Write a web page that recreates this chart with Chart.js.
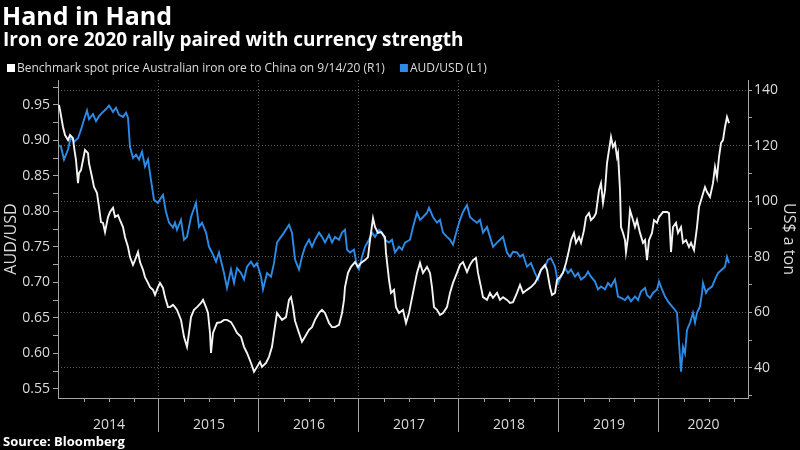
<!DOCTYPE html>
<html>
<head>
<meta charset="utf-8">
<script src="https://cdn.jsdelivr.net/npm/chart.js@4/dist/chart.umd.min.js"></script>
<style>
  html, body { margin: 0; padding: 0; background: #000; }
  #wrap { width: 800px; height: 450px; }
</style>
</head>
<body>
<div id="wrap"><canvas id="chart" width="800" height="450"></canvas></div>
<script>
// Iron ore spot price, US$ a ton (right axis), dates as decimal years
const oreDates = [
  2014.00, 2014.01, 2014.04, 2014.06, 2014.09, 2014.11, 2014.14, 2014.15, 2014.17, 2014.19,
  2014.20, 2014.22, 2014.24, 2014.26, 2014.29, 2014.30, 2014.33, 2014.35, 2014.38, 2014.40,
  2014.42, 2014.44, 2014.46, 2014.49, 2014.51, 2014.54, 2014.56, 2014.59, 2014.61, 2014.64,
  2014.66, 2014.69, 2014.71, 2014.74, 2014.76, 2014.79, 2014.81, 2014.84, 2014.86, 2014.89,
  2014.91, 2014.94, 2014.96, 2014.99, 2015.01, 2015.04, 2015.06, 2015.09, 2015.11, 2015.14,
  2015.16, 2015.18, 2015.22, 2015.25, 2015.28, 2015.30, 2015.32, 2015.35, 2015.38, 2015.42,
  2015.44, 2015.47, 2015.49, 2015.51, 2015.52, 2015.54, 2015.58, 2015.62, 2015.65, 2015.68,
  2015.72, 2015.75, 2015.78, 2015.82, 2015.85, 2015.88, 2015.92, 2015.95, 2015.98, 2016.01,
  2016.03, 2016.07, 2016.10, 2016.13, 2016.15, 2016.18, 2016.21, 2016.23, 2016.27, 2016.30,
  2016.32, 2016.34, 2016.36, 2016.40, 2016.43, 2016.46, 2016.50, 2016.53, 2016.56, 2016.60,
  2016.63, 2016.66, 2016.70, 2016.73, 2016.76, 2016.80, 2016.83, 2016.85, 2016.86, 2016.89,
  2016.92, 2016.96, 2016.99, 2017.02, 2017.06, 2017.09, 2017.11, 2017.14, 2017.16, 2017.19,
  2017.22, 2017.26, 2017.27, 2017.30, 2017.32, 2017.35, 2017.37, 2017.40, 2017.44, 2017.47,
  2017.50, 2017.52, 2017.54, 2017.58, 2017.61, 2017.64, 2017.68, 2017.71, 2017.73, 2017.75,
  2017.78, 2017.81, 2017.84, 2017.88, 2017.91, 2017.94, 2017.98, 2018.01, 2018.04, 2018.08,
  2018.11, 2018.14, 2018.17, 2018.19, 2018.22, 2018.24, 2018.28, 2018.31, 2018.34, 2018.38,
  2018.41, 2018.44, 2018.48, 2018.51, 2018.54, 2018.58, 2018.61, 2018.64, 2018.68, 2018.72,
  2018.76, 2018.79, 2018.82, 2018.86, 2018.88, 2018.91, 2018.93, 2018.96, 2018.98, 2019.01,
  2019.04, 2019.07, 2019.10, 2019.12, 2019.15, 2019.17, 2019.20, 2019.22, 2019.25, 2019.27,
  2019.30, 2019.32, 2019.35, 2019.37, 2019.40, 2019.42, 2019.44, 2019.46, 2019.48, 2019.50,
  2019.52, 2019.54, 2019.56, 2019.58, 2019.59, 2019.61, 2019.62, 2019.64, 2019.66, 2019.67,
  2019.69, 2019.71, 2019.74, 2019.76, 2019.78, 2019.81, 2019.84, 2019.86, 2019.88, 2019.90,
  2019.93, 2019.95, 2019.98, 2020.00, 2020.04, 2020.08, 2020.10, 2020.12, 2020.14, 2020.17,
  2020.19, 2020.22, 2020.24, 2020.27, 2020.30, 2020.32, 2020.35, 2020.38, 2020.40, 2020.43,
  2020.46, 2020.48, 2020.51, 2020.54, 2020.56, 2020.58, 2020.60, 2020.62, 2020.64, 2020.66,
  2020.68, 2020.70
];
const orePrices = [
  134.6, 132.8, 126.7, 123.8, 122.0, 123.8, 122.7, 119.5, 114.8, 106.5,
  110.1, 111.2, 114.8, 118.4, 117.3, 113.7, 108.7, 105.1, 102.9, 97.9,
  92.5, 92.2, 88.9, 94.3, 96.1, 97.6, 94.3, 95.0, 93.2, 90.7,
  87.1, 83.5, 79.9, 77.1, 78.8, 81.7, 78.1, 75.3, 72.7, 70.6,
  69.1, 68.1, 66.3, 69.1, 70.6, 68.8, 65.5, 61.9, 61.9, 62.7,
  61.9, 60.9, 57.3, 51.2, 47.6, 52.6, 58.3, 60.9, 61.9, 63.4,
  64.5, 61.9, 59.8, 52.6, 45.4, 52.6, 56.2, 56.5, 57.3, 57.3,
  56.5, 54.7, 52.6, 51.2, 47.6, 45.4, 41.8, 38.6, 40.4, 42.2,
  40.4, 41.8, 44.0, 47.6, 52.6, 59.8, 58.3, 57.3, 58.3, 64.5,
  65.5, 62.0, 57.0, 52.6, 49.4, 51.2, 53.7, 54.7, 57.3, 59.8,
  60.9, 59.8, 56.2, 54.7, 54.7, 55.5, 59.8, 64.5, 69.1, 74.2,
  76.4, 78.1, 76.4, 77.8, 78.8, 79.9, 86.0, 93.9, 90.7, 88.6,
  88.9, 87.1, 81.4, 71.7, 67.0, 68.1, 61.9, 59.8, 60.9, 56.2,
  59.8, 63.4, 67.0, 74.2, 77.8, 74.2, 76.4, 74.2, 69.1, 61.9,
  60.9, 59.1, 59.8, 61.9, 67.0, 70.6, 74.2, 77.1, 78.1, 74.5,
  77.1, 78.8, 79.6, 74.2, 69.1, 65.5, 64.5, 67.0, 65.2, 67.0,
  64.5, 65.5, 64.5, 63.4, 63.7, 67.0, 69.9, 67.0, 68.1, 69.1,
  70.6, 72.7, 75.3, 77.1, 75.3, 69.1, 66.3, 67.0, 71.7, 72.7,
  74.2, 77.8, 82.4, 86.0, 88.6, 85.0, 87.1, 85.0, 89.6, 94.3,
  95.7, 93.2, 94.3, 95.7, 104.0, 106.5, 99.4, 104.0, 113.7, 118.4,
  123.1, 119.5, 120.9, 115.9, 117.3, 104.0, 90.7, 88.6, 86.0, 81.7,
  87.1, 96.8, 93.2, 90.7, 93.2, 88.6, 85.0, 86.0, 78.8, 86.0,
  88.6, 93.2, 92.2, 94.3, 96.1, 96.1, 95.7, 81.7, 90.7, 92.2,
  88.6, 90.7, 85.0, 86.0, 83.5, 85.0, 82.4, 90.7, 97.9, 101.5,
  105.1, 103.3, 101.5, 106.5, 112.3, 108.7, 115.9, 120.9, 122.0, 126.7,
  130.3, 128.1
];

// AUD/USD (left axis)
const audDates = [
  2014.00, 2014.02, 2014.05, 2014.09, 2014.12, 2014.15, 2014.19, 2014.22, 2014.25, 2014.28,
  2014.30, 2014.34, 2014.37, 2014.40, 2014.44, 2014.47, 2014.50, 2014.54, 2014.57, 2014.60,
  2014.64, 2014.67, 2014.69, 2014.71, 2014.74, 2014.77, 2014.80, 2014.83, 2014.86, 2014.89,
  2014.92, 2014.95, 2014.99, 2015.02, 2015.04, 2015.07, 2015.10, 2015.14, 2015.16, 2015.18,
  2015.22, 2015.25, 2015.28, 2015.32, 2015.37, 2015.40, 2015.43, 2015.47, 2015.50, 2015.53,
  2015.57, 2015.60, 2015.65, 2015.68, 2015.72, 2015.75, 2015.78, 2015.82, 2015.85, 2015.88,
  2015.92, 2015.95, 2015.98, 2016.02, 2016.04, 2016.08, 2016.12, 2016.15, 2016.18, 2016.22,
  2016.25, 2016.30, 2016.33, 2016.36, 2016.40, 2016.43, 2016.46, 2016.50, 2016.53, 2016.56,
  2016.60, 2016.63, 2016.66, 2016.70, 2016.73, 2016.76, 2016.80, 2016.83, 2016.86, 2016.88,
  2016.91, 2016.95, 2016.98, 2017.00, 2017.03, 2017.06, 2017.10, 2017.13, 2017.16, 2017.20,
  2017.23, 2017.26, 2017.30, 2017.33, 2017.36, 2017.40, 2017.43, 2017.46, 2017.51, 2017.54,
  2017.58, 2017.61, 2017.64, 2017.68, 2017.70, 2017.74, 2017.78, 2017.81, 2017.84, 2017.88,
  2017.91, 2017.94, 2017.98, 2018.01, 2018.04, 2018.08, 2018.11, 2018.14, 2018.18, 2018.21,
  2018.24, 2018.28, 2018.31, 2018.34, 2018.38, 2018.41, 2018.44, 2018.48, 2018.51, 2018.54,
  2018.58, 2018.61, 2018.64, 2018.68, 2018.72, 2018.76, 2018.79, 2018.82, 2018.86, 2018.89,
  2018.92, 2018.96, 2018.99, 2019.02, 2019.06, 2019.09, 2019.12, 2019.16, 2019.19, 2019.22,
  2019.26, 2019.29, 2019.32, 2019.36, 2019.39, 2019.42, 2019.46, 2019.49, 2019.52, 2019.56,
  2019.59, 2019.62, 2019.66, 2019.69, 2019.72, 2019.76, 2019.79, 2019.82, 2019.86, 2019.88,
  2019.91, 2019.94, 2019.98, 2020.00, 2020.03, 2020.06, 2020.09, 2020.13, 2020.16, 2020.18,
  2020.20, 2020.22, 2020.24, 2020.26, 2020.28, 2020.31, 2020.34, 2020.36, 2020.38, 2020.41,
  2020.43, 2020.44, 2020.47, 2020.49, 2020.53, 2020.56, 2020.59, 2020.63, 2020.66, 2020.68,
  2020.70
];
const audValues = [
  0.893, 0.891, 0.873, 0.887, 0.905, 0.898, 0.903, 0.915, 0.929, 0.942,
  0.930, 0.937, 0.927, 0.934, 0.940, 0.944, 0.949, 0.940, 0.946, 0.936,
  0.933, 0.939, 0.932, 0.891, 0.875, 0.880, 0.873, 0.884, 0.863, 0.873,
  0.844, 0.816, 0.812, 0.819, 0.823, 0.799, 0.784, 0.777, 0.784, 0.774,
  0.788, 0.760, 0.764, 0.792, 0.812, 0.778, 0.784, 0.770, 0.750, 0.742,
  0.729, 0.742, 0.713, 0.692, 0.718, 0.699, 0.720, 0.713, 0.704, 0.722,
  0.729, 0.722, 0.727, 0.708, 0.690, 0.713, 0.708, 0.727, 0.756, 0.764,
  0.770, 0.781, 0.770, 0.732, 0.718, 0.736, 0.750, 0.760, 0.750, 0.760,
  0.770, 0.764, 0.756, 0.767, 0.756, 0.764, 0.760, 0.770, 0.774, 0.746,
  0.742, 0.746, 0.722, 0.718, 0.736, 0.750, 0.760, 0.770, 0.764, 0.774,
  0.770, 0.760, 0.756, 0.760, 0.742, 0.750, 0.746, 0.756, 0.760, 0.778,
  0.798, 0.788, 0.792, 0.798, 0.805, 0.792, 0.784, 0.788, 0.770, 0.764,
  0.760, 0.753, 0.774, 0.788, 0.799, 0.809, 0.792, 0.788, 0.784, 0.788,
  0.770, 0.778, 0.764, 0.750, 0.756, 0.760, 0.764, 0.742, 0.736, 0.743,
  0.742, 0.736, 0.739, 0.722, 0.727, 0.713, 0.704, 0.718, 0.722, 0.732,
  0.734, 0.722, 0.699, 0.708, 0.720, 0.713, 0.718, 0.708, 0.713, 0.704,
  0.708, 0.715, 0.708, 0.701, 0.690, 0.694, 0.690, 0.699, 0.694, 0.704,
  0.680, 0.678, 0.675, 0.680, 0.673, 0.680, 0.675, 0.687, 0.692, 0.682,
  0.678, 0.685, 0.690, 0.701, 0.690, 0.680, 0.673, 0.666, 0.661, 0.657,
  0.615, 0.574, 0.609, 0.600, 0.633, 0.643, 0.657, 0.643, 0.657, 0.666,
  0.685, 0.699, 0.685, 0.690, 0.694, 0.704, 0.713, 0.718, 0.722, 0.736,
  0.727
];

// Axis labels
const years = [2014, 2015, 2016, 2017, 2018, 2019, 2020];
const audTickLabels = [0.55, 0.60, 0.65, 0.70, 0.75, 0.80, 0.85, 0.90, 0.95];
const oreTickLabels = [40, 60, 80, 100, 120, 140];

const TITLE = "Hand in Hand";
const SUBTITLE = "Iron ore 2020 rally paired with currency strength";
const SOURCE = "Source: Bloomberg";

const TEXT = "#dcdcdc";
const AXIS = "#a6a6a6";
const GRID = "#5a5a5a";
const FONT = "'Open Sans', 'Liberation Sans', sans-serif";

Chart.defaults.font.family = FONT;

// minor ticks between the labelled ones
const audTicks = [];
for (let v = 550; v <= 975; v += 25) audTicks.push(v / 1000);
const oreTicks = [];
for (let v = 30; v <= 140; v += 10) oreTicks.push(v);
const xTicks = [];
years.forEach(y => {
    xTicks.push(y);
    xTicks.push(y === 2020 ? 2020.445 : y + 0.5);
});

const headerPlugin = {
    id: "header",
    afterDraw(chart) {
        const ctx = chart.ctx;
        const xScale = chart.scales.x;
        const area = chart.chartArea;

        ctx.save();
        ctx.textBaseline = "alphabetic";
        ctx.textAlign = "left";
        ctx.fillStyle = "#ffffff";
        ctx.font = "bold 25px " + FONT;
        ctx.fillText(TITLE, 2, 25);
        ctx.font = "bold 19px " + FONT;
        ctx.fillText(SUBTITLE, 3, 46);

        // legend
        ctx.font = "12px " + FONT;
        let lx = 7;
        chart.data.datasets.forEach(ds => {
            ctx.fillStyle = ds.legendColor;
            ctx.fillRect(lx, 64, 8, 8);
            ctx.fillStyle = TEXT;
            ctx.fillText(ds.label, lx + 10, 72);
            lx += 10 + ctx.measureText(ds.label).width + 15;
        });

        // quarter ticks under the time axis
        ctx.strokeStyle = AXIS;
        ctx.lineWidth = 1;
        years.forEach(y => {
            [0.25, 0.5, 0.75].forEach(q => {
                const px = Math.round(xScale.getPixelForValue(y + q)) + 0.5;
                if (px > area.right) return;
                ctx.beginPath();
                ctx.moveTo(px, area.bottom);
                ctx.lineTo(px, area.bottom + 4);
                ctx.stroke();
            });
        });

        ctx.fillStyle = "#ffffff";
        ctx.font = "bold 13px " + FONT;
        ctx.fillText(SOURCE, 3, 446);
        ctx.restore();
    }
};

new Chart(document.getElementById("chart"), {
    type: "line",
    data: {
        datasets: [
            {
                label: "Benchmark spot price Australian iron ore to China on 9/14/20 (R1)",
                data: oreDates.map((d, i) => ({ x: d, y: orePrices[i] })),
                borderColor: "#f4f4f4",
                legendColor: "#ffffff",
                borderWidth: 1.9,
                yAxisID: "yOre"
            },
            {
                label: "AUD/USD (L1)",
                data: audDates.map((d, i) => ({ x: d, y: audValues[i] })),
                borderColor: "#2b8be6",
                legendColor: "#2b8be6",
                borderWidth: 1.9,
                yAxisID: "yAud"
            }
        ]
    },
    options: {
        responsive: false,
        animation: false,
        devicePixelRatio: 1,
        layout: { padding: { top: 80, right: 0, bottom: 18, left: 0 } },
        elements: { point: { radius: 0 }, line: { tension: 0 } },
        plugins: { legend: { display: false }, tooltip: { enabled: false } },
        scales: {
            x: {
                type: "linear",
                min: 2013.99,
                max: 2020.89,
                afterBuildTicks: s => { s.ticks = xTicks.map(v => ({ value: v })); },
                afterFit: s => { s.height = 34; },
                ticks: {
                    color: TEXT,
                    font: { size: 14 },
                    padding: -15,
                    autoSkip: false,
                    maxRotation: 0,
                    callback: v => Number.isInteger(v) ? "" : String(Math.floor(v))
                },
                grid: {
                    color: c => (c.tick && Number.isInteger(c.tick.value) && c.tick.value > 2014) ? GRID : "transparent",
                    tickColor: c => (c.tick && Number.isInteger(c.tick.value) && c.tick.value > 2014) ? AXIS : "transparent",
                    tickLength: 34
                },
                border: { color: AXIS, dash: [1, 2] }
            },
            yAud: {
                position: "left",
                min: 0.537,
                max: 0.985,
                afterBuildTicks: s => { s.ticks = audTicks.map(v => ({ value: v })); },
                afterFit: s => { s.width = 58; },
                ticks: {
                    color: TEXT,
                    font: { size: 14 },
                    padding: 3,
                    autoSkip: false,
                    callback: v => audTickLabels.some(t => Math.abs(t - v) < 1e-6) ? v.toFixed(2) : ""
                },
                grid: { drawOnChartArea: false, tickLength: 5, tickColor: AXIS },
                border: { color: AXIS },
                title: { display: true, text: "AUD/USD", color: TEXT, font: { size: 16 }, padding: { top: 2, bottom: 0 } }
            },
            yOre: {
                position: "right",
                min: 29.2,
                max: 143.6,
                afterBuildTicks: s => { s.ticks = oreTicks.map(v => ({ value: v })); },
                afterFit: s => { s.width = 52; },
                ticks: {
                    color: TEXT,
                    font: { size: 14 },
                    padding: 2,
                    autoSkip: false,
                    callback: v => oreTickLabels.includes(v) ? String(v) : ""
                },
                grid: {
                    color: c => (c.tick && oreTickLabels.includes(c.tick.value)) ? GRID : "transparent",
                    tickColor: AXIS,
                    tickLength: 4
                },
                border: { color: AXIS, dash: [1, 2] },
                title: { display: true, text: "US$ a ton", color: TEXT, font: { size: 16 }, padding: { top: 2, bottom: 0 } }
            }
        }
    },
    plugins: [headerPlugin]
});
</script>
</body>
</html>
